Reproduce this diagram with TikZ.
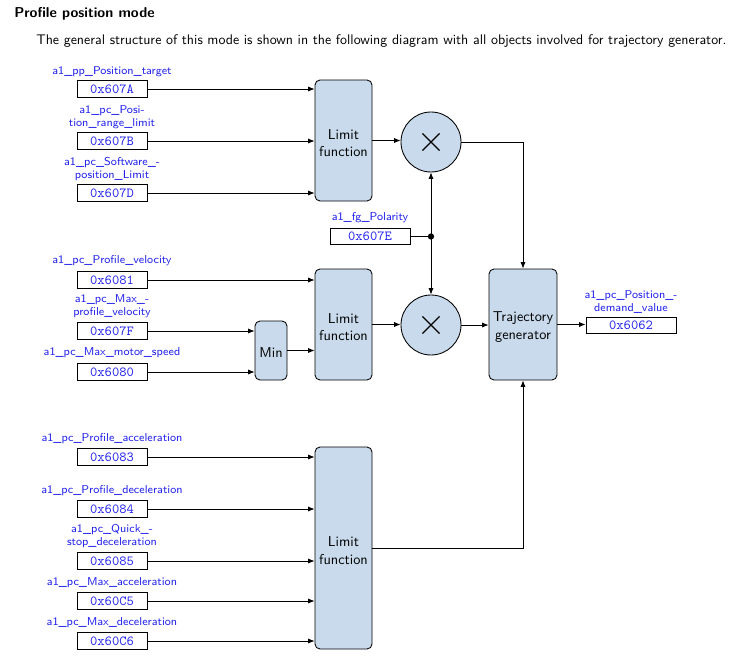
\documentclass[tikz,border=0pt]{standalone}
\usetikzlibrary{arrows.meta}
\definecolor{blockfill}{RGB}{200,218,235}
\definecolor{lblblue}{RGB}{35,35,235}
\begin{document}
\begin{tikzpicture}[x=0.7pt,y=-0.7pt,
  lbl/.style={text=lblblue,font=\sffamily\fontsize{8}{9.1}\selectfont,align=center,inner sep=0pt,yshift=-1.4pt},
  hexbox/.style={draw,line width=0.6pt,text=lblblue,font=\ttfamily\fontsize{9.7}{11}\selectfont,minimum width=49pt,minimum height=11.6pt,inner sep=0pt},
  block/.style={draw,line width=0.6pt,fill=blockfill,rounded corners=3.5pt,inner sep=0pt},
  btext/.style={font=\sffamily\fontsize{10}{12}\selectfont,align=center,inner sep=0pt,yshift=-1.8pt},
  mult/.style={circle,draw,line width=0.6pt,fill=blockfill,minimum size=42pt,inner sep=0pt,
    path picture={\draw[line width=0.8pt] ([shift={(-6pt,-6pt)}]path picture bounding box.center) -- ++(12pt,12pt)
      ([shift={(-6pt,6pt)}]path picture bounding box.center) -- ++(12pt,-12pt);}},
  arr/.style={line width=0.6pt,-{Latex[length=4.5pt,width=3.6pt]}},
  ln/.style={line width=0.6pt}
]
\useasboundingbox (0,0) rectangle (754,665);
\node[anchor=west,font=\sffamily\bfseries\fontsize{10}{12}\selectfont,inner sep=0pt] (title) at (14,14) {Profile position mode};
\node[anchor=west,font=\sffamily\fontsize{9.75}{12}\selectfont,inner sep=0pt] (intro) at (36,41) {The general structure of this mode is shown in the following diagram with all objects involved for trajectory generator.};

% blocks
\node[block,minimum width=39.9pt,minimum height=84.7pt,label={[btext]center:Limit\\function}] (lim1) at (343.5,140.5) {};
\node[block,minimum width=39.9pt,minimum height=77.7pt,label={[btext]center:Limit\\function}] (lim2) at (343.5,324.5) {};
\node[block,minimum width=39.9pt,minimum height=141.4pt,label={[btext]center:Limit\\function}] (lim3) at (343.5,548) {};
\node[block,minimum width=22.4pt,minimum height=41.3pt,label={[btext,yshift=0.4pt]center:Min}] (min) at (271,350.5) {};
\node[block,minimum width=47.6pt,minimum height=77.7pt,label={[btext]center:Trajectory\\generator}] (tg) at (523,324.5) {};
\node[mult] (c1) at (431,142) {};
\node[mult] (c2) at (431,325) {};

% inputs
\node[lbl] (l1) at (112,70) {a1\_pp\_Position\_target};
\node[hexbox] (h1) at (112,89) {0x607A};
\node[lbl] (l2) at (112,115.5) {a1\_pc\_Posi-\\tion\_range\_limit};
\node[hexbox] (h2) at (112,141) {0x607B};
\node[lbl] (l3) at (112,167.5) {a1\_pc\_Software\_-\\position\_Limit};
\node[hexbox] (h3) at (112,193) {0x607D};

\node[lbl] (lp) at (370,216) {a1\_fg\_Polarity};
\node[hexbox,minimum width=56pt] (hp) at (370,236.5) {0x607E};
\coordinate (dot) at (431,236.5);

\node[lbl] (l4) at (112,259) {a1\_pc\_Profile\_velocity};
\node[hexbox] (h4) at (112,280) {0x6081};
\node[lbl] (l5) at (112,304.5) {a1\_pc\_Max\_-\\profile\_velocity};
\node[hexbox] (h5) at (112,331) {0x607F};
\node[lbl] (l6) at (112,351) {a1\_pc\_Max\_motor\_speed};
\node[hexbox] (h6) at (112,372) {0x6080};

\node[lbl] (l7) at (112,437) {a1\_pc\_Profile\_acceleration};
\node[hexbox] (h7) at (112,457) {0x6083};
\node[lbl] (l8) at (112,489) {a1\_pc\_Profile\_deceleration};
\node[hexbox] (h8) at (112,509) {0x6084};
\node[lbl] (l9) at (112,534.5) {a1\_pc\_Quick\_-\\stop\_deceleration};
\node[hexbox] (h9) at (112,561) {0x6085};
\node[lbl] (l10) at (112,581) {a1\_pc\_Max\_acceleration};
\node[hexbox] (h10) at (112,601) {0x60C5};
\node[lbl] (l11) at (112,621) {a1\_pc\_Max\_deceleration};
\node[hexbox] (h11) at (112,641) {0x60C6};

\node[lbl] (lo) at (631,299.5) {a1\_pc\_Position\_-\\demand\_value};
\node[hexbox,minimum width=63pt] (ho) at (631,325.5) {0x6062};

% connectors
\foreach \h in {h1,h2,h3} \draw[arr] (\h.east) -- (\h.east -| lim1.west);
\draw[arr] (h4.east) -- (h4.east -| lim2.west);
\foreach \h in {h5,h6} \draw[arr] (\h.east) -- (\h.east -| min.west);
\foreach \h in {h7,h8,h9,h10,h11} \draw[arr] (\h.east) -- (\h.east -| lim3.west);
\draw[arr] (min.east) -- (min.east -| lim2.west);
\draw[arr] (lim1.east) -- (lim1.east -| c1.west);
\draw[arr] (lim2.east) -- (lim2.east -| c2.west);
\draw[arr] (c1.east) -| (tg.north);
\draw[arr] (c2.east) -- (c2.east -| tg.west);
\draw[arr] (lim3.east) -| (tg.south);
\draw[arr] (tg.east) -- (tg.east -| ho.west);
\draw[ln] (hp.east) -- (dot);
\fill (dot) circle (2.2pt);
\draw[arr] (dot) -- (c1.south);
\draw[arr] (dot) -- (c2.north);
\end{tikzpicture}
\end{document}
